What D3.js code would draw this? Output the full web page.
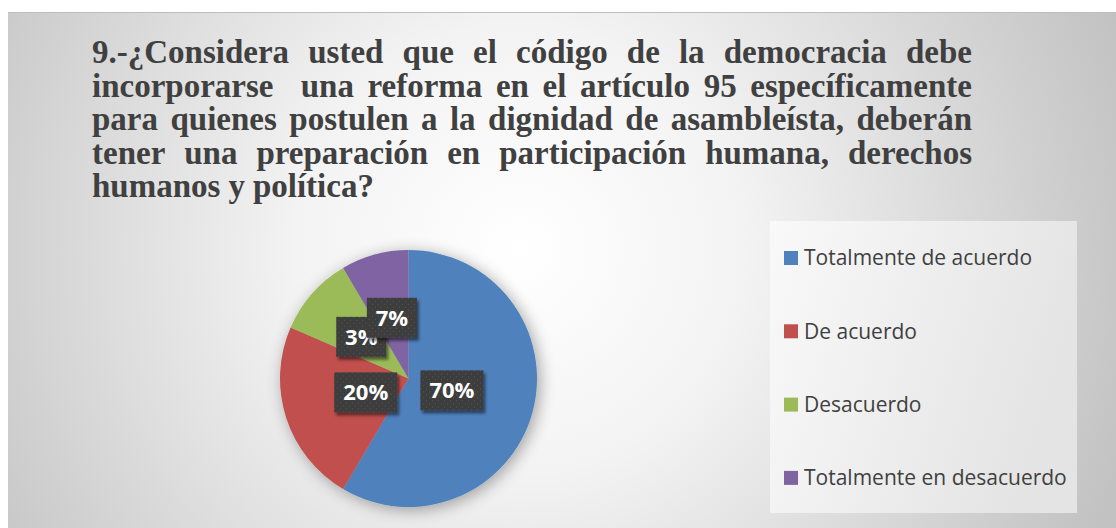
<!DOCTYPE html>
<html><head><meta charset="utf-8">
<script src="https://cdn.jsdelivr.net/npm/d3@7"></script>
<style>html,body{margin:0;padding:0;background:#fff;}svg{display:block;}</style>
</head><body>
<script>
const categories = ["Totalmente de acuerdo", "De acuerdo", "Desacuerdo", "Totalmente en desacuerdo"];
const values = [58.5, 23, 10, 8.5];
const labels = ["70%", "20%", "3%", "7%"];
const colors = ["#4f81bd", "#c0504d", "#9bbb59", "#8064a2"];
const titleLines = [
  "9.-¿Considera usted que el código de la democracia debe",
  "incorporarse  una reforma en el artículo 95 específicamente",
  "para quienes postulen a la dignidad de asambleísta, deberán",
  "tener una preparación en participación humana, derechos",
  "humanos y política?"
];

const W = 1116, H = 528;
const svg = d3.select("body").append("svg").attr("width", W).attr("height", H);
const defs = svg.append("defs");

const bg = defs.append("radialGradient").attr("id", "bg")
  .attr("gradientUnits", "userSpaceOnUse").attr("cx", 520).attr("cy", 250).attr("r", 640);
bg.append("stop").attr("offset", 0).attr("stop-color", "#ffffff");
bg.append("stop").attr("offset", 0.35).attr("stop-color", "#f3f3f3");
bg.append("stop").attr("offset", 1).attr("stop-color", "#c2c2c2");

const lg = defs.append("linearGradient").attr("id", "lg").attr("x1", 0).attr("x2", 1).attr("y1", 0).attr("y2", 0.3);
lg.append("stop").attr("offset", 0).attr("stop-color", "#f9f9f9");
lg.append("stop").attr("offset", 1).attr("stop-color", "#e4e4e4");

const sh = defs.append("filter").attr("id", "pieShadow").attr("x", "-30%").attr("y", "-30%").attr("width", "160%").attr("height", "160%");
sh.append("feGaussianBlur").attr("in", "SourceAlpha").attr("stdDeviation", 8).attr("result", "b");
sh.append("feOffset").attr("in", "b").attr("dx", 3).attr("dy", 3).attr("result", "o");
sh.append("feComponentTransfer").attr("in", "o").attr("result", "s")
  .append("feFuncA").attr("type", "linear").attr("slope", 0.35);
const m = sh.append("feMerge"); m.append("feMergeNode").attr("in", "s"); m.append("feMergeNode").attr("in", "SourceGraphic");

const bs = defs.append("filter").attr("id", "boxShadow").attr("x", "-20%").attr("y", "-20%").attr("width", "150%").attr("height", "160%");
bs.append("feGaussianBlur").attr("in", "SourceAlpha").attr("stdDeviation", 1.5).attr("result", "b");
bs.append("feOffset").attr("in", "b").attr("dx", 2).attr("dy", 3).attr("result", "o");
bs.append("feComponentTransfer").attr("in", "o").attr("result", "s")
  .append("feFuncA").attr("type", "linear").attr("slope", 0.5);
const m2 = bs.append("feMerge"); m2.append("feMergeNode").attr("in", "s"); m2.append("feMergeNode").attr("in", "SourceGraphic");

const pat = defs.append("pattern").attr("id", "dots").attr("patternUnits", "userSpaceOnUse").attr("width", 6).attr("height", 6);
pat.append("rect").attr("width", 6).attr("height", 6).attr("fill", "#3c3c3c");
pat.append("rect").attr("x", 1).attr("y", 1).attr("width", 1).attr("height", 1).attr("fill", "#5a5a5a");
pat.append("rect").attr("x", 4).attr("y", 4).attr("width", 1).attr("height", 1).attr("fill", "#5a5a5a");

// panel
svg.append("rect").attr("x", 8).attr("y", 12).attr("width", W - 8).attr("height", H - 12).attr("fill", "url(#bg)");
svg.append("line").attr("x1", 8).attr("x2", W).attr("y1", 12.5).attr("y2", 12.5).attr("stroke", "#bdbdbd").attr("stroke-width", 1);

// title (justified)
const tX0 = 92, tX1 = 972, tY0 = 63, tDy = 33.5;
const title = svg.append("g").attr("font-family", "'Liberation Serif', 'Times New Roman', serif")
  .attr("font-weight", "bold").attr("font-size", 33).attr("fill", "#404040");
titleLines.forEach((line, i) => {
  const words = line.split(" ");
  const y = tY0 + i * tDy;
  const texts = words.map(w => title.append("text").attr("y", y).text(w));
  const widths = texts.map(t => t.node().getComputedTextLength());
  const sum = d3.sum(widths);
  const last = i === titleLines.length - 1;
  const gap = last ? 8 : (tX1 - tX0 - sum) / (words.length - 1);
  let x = tX0;
  texts.forEach((t, j) => { t.attr("x", x); x += widths[j] + gap; });
});

// pie
const cx = 408.5, cy = 378.5, R = 128.5;
const pie = d3.pie().sort(null).value(d => d);
const arcs = pie(values);
const arc = d3.arc().innerRadius(0).outerRadius(R);
const gp = svg.append("g").attr("transform", `translate(${cx},${cy})`);
gp.append("g").attr("filter", "url(#pieShadow)").selectAll("path").data(arcs).join("path")
  .attr("d", arc).attr("fill", (d, i) => colors[i]).attr("stroke", "none");

// data labels
const total = d3.sum(values);
const lbl = gp.append("g").selectAll("g").data(arcs).join("g")
  .attr("transform", d => {
    const frac = (d.value / total);
    const rr = frac > 0.15 ? R * 0.35 : R * 0.49;
    const a = (d.startAngle + d.endAngle) / 2;
    return `translate(${rr * Math.sin(a)},${-rr * Math.cos(a)})`;
  });
lbl.each(function(d, i) {
  const g = d3.select(this);
  const w = labels[i].length > 2 ? 63 : 50, h = 40;
  g.append("rect").attr("x", -w / 2).attr("y", -h / 2).attr("width", w).attr("height", h)
    .attr("fill", "url(#dots)").attr("filter", "url(#boxShadow)");
  g.append("text").attr("text-anchor", "middle").attr("dy", "0.36em")
    .attr("font-family", "'Open Sans', 'DejaVu Sans', sans-serif").attr("font-weight", "bold")
    .attr("font-size", 22).attr("fill", "#ffffff").text(labels[i]);
});

// legend
svg.append("rect").attr("x", 770).attr("y", 221).attr("width", 307).attr("height", 292).attr("fill", "url(#lg)");
const leg = svg.append("g").selectAll("g").data(categories).join("g")
  .attr("transform", (d, i) => `translate(784,${258 + i * 73.3})`);
leg.append("rect").attr("x", 0).attr("y", -7).attr("width", 14).attr("height", 14).attr("fill", (d, i) => colors[i]);
leg.append("text").attr("x", 20).attr("dy", "0.35em")
  .attr("font-family", "'Open Sans', 'Noto Sans', sans-serif").attr("font-size", 21).attr("fill", "#404040")
  .text(d => d);
</script>
</body></html>
